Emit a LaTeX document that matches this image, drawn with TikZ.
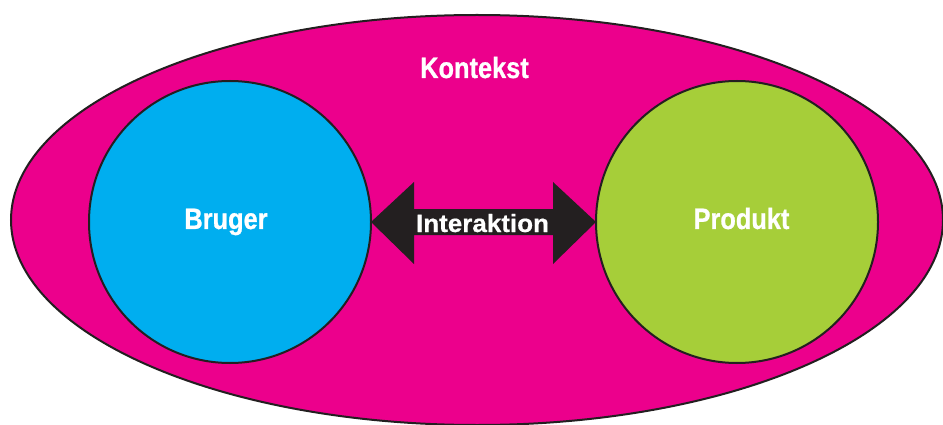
\documentclass[tikz,border=0pt]{standalone}
\usepackage{fontspec}
\setmainfont{Liberation Sans}
\newfontfamily\condf{Liberation Sans}[FakeStretch=0.86, FakeBold=0.8]
\newfontfamily\widef{Liberation Sans}[FakeStretch=1.04, FakeBold=0.5]
\usetikzlibrary{shapes.geometric,calc}
\definecolor{ctxpink}{HTML}{EC008C}
\definecolor{userblue}{HTML}{00AEEF}
\definecolor{prodgreen}{HTML}{A6CE39}
\definecolor{outline}{HTML}{231F20}
\tikzset{
  shapeline/.style={draw=outline, line width=2pt},
  bigtext/.style={text=white, font=\condf\bfseries\fontsize{29.5}{32}\selectfont, inner sep=0pt, anchor=base},
  arrtext/.style={text=white, font=\widef\bfseries\fontsize{25}{28}\selectfont, inner sep=0pt, anchor=base},
}
\begin{document}
\begin{tikzpicture}[x=1pt,y=-1pt]
\useasboundingbox (0,0) rectangle (943,425);
\node[ellipse, shapeline, fill=ctxpink, minimum width=932pt, minimum height=410pt, inner sep=0pt, outer sep=0pt] (ctx) at (477,220) {};
\node[circle, shapeline, fill=userblue, minimum size=282pt, inner sep=0pt, outer sep=0pt] (bru) at (230,222) {};
\node[circle, shapeline, fill=prodgreen, minimum size=282pt, inner sep=0pt, outer sep=0pt] (prod) at (737,222) {};
\fill[outline] (bru.east) -- ++(43,-40) -- ++(0,27) -- ($(prod.west)+(-43,-13)$) -- ++(0,-27) -- (prod.west)
  -- ++(-43,42) -- ++(0,-29) -- ($(bru.east)+(43,13)$) -- ++(0,29) -- cycle;
\node[bigtext] (tctx) at (474.5,78) {Kontekst};
\node[bigtext] (tbru) at (226,229) {Bruger};
\node[bigtext] (tprod) at (741.5,229) {Produkt};
\node[arrtext] (tint) at ($(bru.east)!0.5!(prod.west)+(-1,10)$) {Interaktion};
\end{tikzpicture}
\end{document}
